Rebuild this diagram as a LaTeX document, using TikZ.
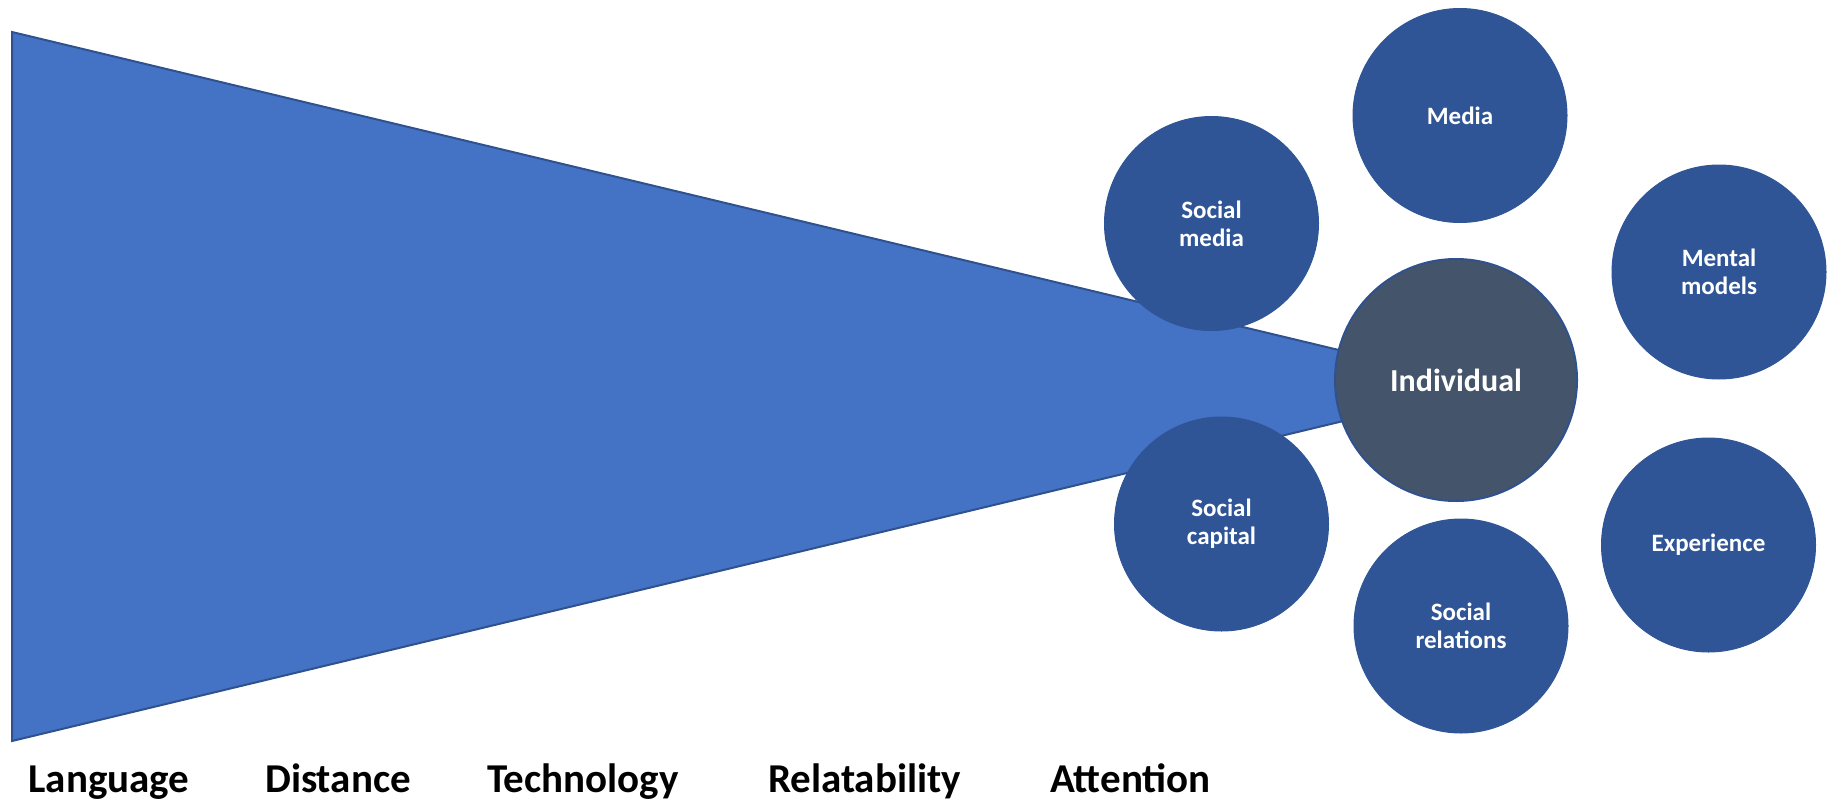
\documentclass[tikz,border=0pt]{standalone}
\usepackage{fontspec}
\setmainfont{Carlito}
\definecolor{tri}{HTML}{4472C4}
\definecolor{triedge}{HTML}{2F528F}
\definecolor{circ}{HTML}{2F5597}
\definecolor{indiv}{HTML}{44546A}
\begin{document}
\begin{tikzpicture}[x=1pt,y=-1pt,
  smallcirc/.style={circle,fill=circ,draw=circ,line width=1pt,minimum size=214pt,inner sep=0pt,
    text=white,align=center,font=\fontsize{25}{28}\selectfont\bfseries},
  bigcirc/.style={circle,fill=indiv,draw=triedge,line width=2pt,minimum size=242pt,inner sep=0pt,
    text=white,font=\fontsize{32}{35}\selectfont\bfseries},
  botlabel/.style={anchor=base,inner sep=0pt,font=\fontsize{41}{45}\selectfont\bfseries}]
\useasboundingbox (0,0) rectangle (1831,803);
\coordinate (tl) at (12,32);
\coordinate (bl) at (12,741);
\coordinate (apex) at (1489,386);
\fill[tri,draw=triedge,line width=2pt,line join=miter] (tl) -- (bl) -- (apex) -- cycle;
\node[smallcirc] (socmedia) at (1211.5,223.5) {Social\\media};
\node[smallcirc] (media) at (1460,115.5) {Media};
\node[smallcirc] (mental) at (1719,272) {Mental\\models};
\node[smallcirc] (exper) at (1708.5,545) {Experience};
\node[smallcirc] (socrel) at (1461,626) {Social\\relations};
\node[smallcirc] (soccap) at (1221.5,524) {Social\\capital};
\node[bigcirc] (indiv) at (1456,380) {Individual};
\node[botlabel] (lang) at (109,792) {Language};
\node[botlabel] (dist) at (338,792) {Distance};
\node[botlabel] (tech) at (583,792) {Technology};
\node[botlabel] (relat) at (864.5,792) {Relatability};
\node[botlabel] (atten) at (1130.5,792) {Attention};
\end{tikzpicture}
\end{document}
